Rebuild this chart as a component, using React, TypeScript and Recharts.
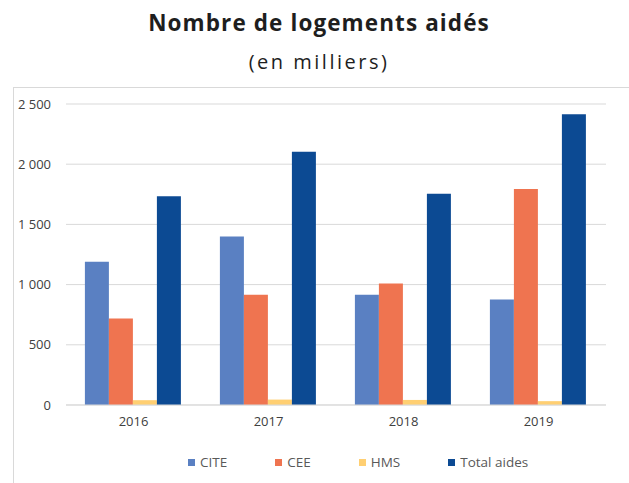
import React from "react";
import { BarChart, Bar, XAxis, YAxis, CartesianGrid, Legend } from "recharts";

const years = ["2016", "2017", "2018", "2019"];
const cite = [1190, 1400, 915, 877];
const cee = [718, 915, 1010, 1795];
const hms = [40, 45, 42, 32];
const totalAides = [1733, 2104, 1755, 2415];
const yTicks = [0, 500, 1000, 1500, 2000, 2500];

const seriesNames = ["CITE", "CEE", "HMS", "Total aides"];
const colors = ["#5A80C2", "#EF7450", "#FFCF72", "#0C4A93"];

const data = years.map((y, i) => ({
  year: y,
  CITE: cite[i],
  CEE: cee[i],
  HMS: hms[i],
  "Total aides": totalAides[i],
}));

const fmt = (v: number) => {
  const s = String(v);
  return s.length > 3 ? s.slice(0, s.length - 3) + " " + s.slice(s.length - 3) : s;
};

const LegendContent = (props: any) => {
  const payload = [...(props.payload || [])].sort(
    (a: any, b: any) => seriesNames.indexOf(a.value) - seriesNames.indexOf(b.value)
  );
  return (
    <div style={{ display: "flex", gap: 48, fontFamily: "Open Sans", fontSize: 13.5, color: "#595959" }}>
      {payload.map((p: any) => (
        <div key={p.value} style={{ display: "flex", alignItems: "center" }}>
          <span style={{ display: "inline-block", width: 7, height: 7, background: p.color, marginRight: 5 }} />
          <span>{p.value}</span>
        </div>
      ))}
    </div>
  );
};

export default function App() {
  return (
    <div style={{ position: "absolute", left: 0, top: 0, width: 629, height: 483, background: "#fff", overflow: "hidden" }}>
      <div style={{ position: "absolute", left: 0, top: 7, width: 638, textAlign: "center", fontFamily: "Open Sans", fontWeight: 700, fontSize: 22.5, letterSpacing: 1.1, color: "#1e1e1e" }}>
        Nombre de logements aidés
      </div>
      <div style={{ position: "absolute", left: 0, top: 48, width: 638, textAlign: "center", fontFamily: "Open Sans", fontSize: 20, letterSpacing: 2.5, color: "#1e1e1e" }}>
        (en milliers)
      </div>
      <div style={{ position: "absolute", left: 13, top: 87, width: 620, height: 400, borderTop: "1px solid #d9d9d9", borderLeft: "1px solid #d9d9d9" }} />
      <div style={{ position: "absolute", left: 0, top: 88 }}>
        <BarChart
          width={629}
          height={395}
          data={data}
          margin={{ top: 16, right: 23, left: 0, bottom: 12 }}
          barCategoryGap="14%"
          barGap={0}
        >
          <CartesianGrid vertical={false} stroke="#d9d9d9" />
          <XAxis
            dataKey="year"
            height={48}
            tickLine={false}
            tickSize={0}
            tickMargin={12}
            axisLine={{ stroke: "#d9d9d9" }}
            tick={{ fill: "#404040", fontSize: 13, fontFamily: "Open Sans" }}
          />
          <YAxis
            width={66}
            domain={[0, 2500]}
            ticks={yTicks}
            tickFormatter={fmt}
            axisLine={false}
            tickLine={false}
            tickSize={0}
            tickMargin={15}
            tick={{ fill: "#404040", fontSize: 13, fontFamily: "Open Sans" }}
          />
          <Legend
            verticalAlign="bottom"
            content={<LegendContent />}
            wrapperStyle={{ left: 188, width: "auto" }}
          />
          {seriesNames.map((n, i) => (
            <Bar key={n} dataKey={n} fill={colors[i]} isAnimationActive={false} />
          ))}
        </BarChart>
      </div>
    </div>
  );
}
